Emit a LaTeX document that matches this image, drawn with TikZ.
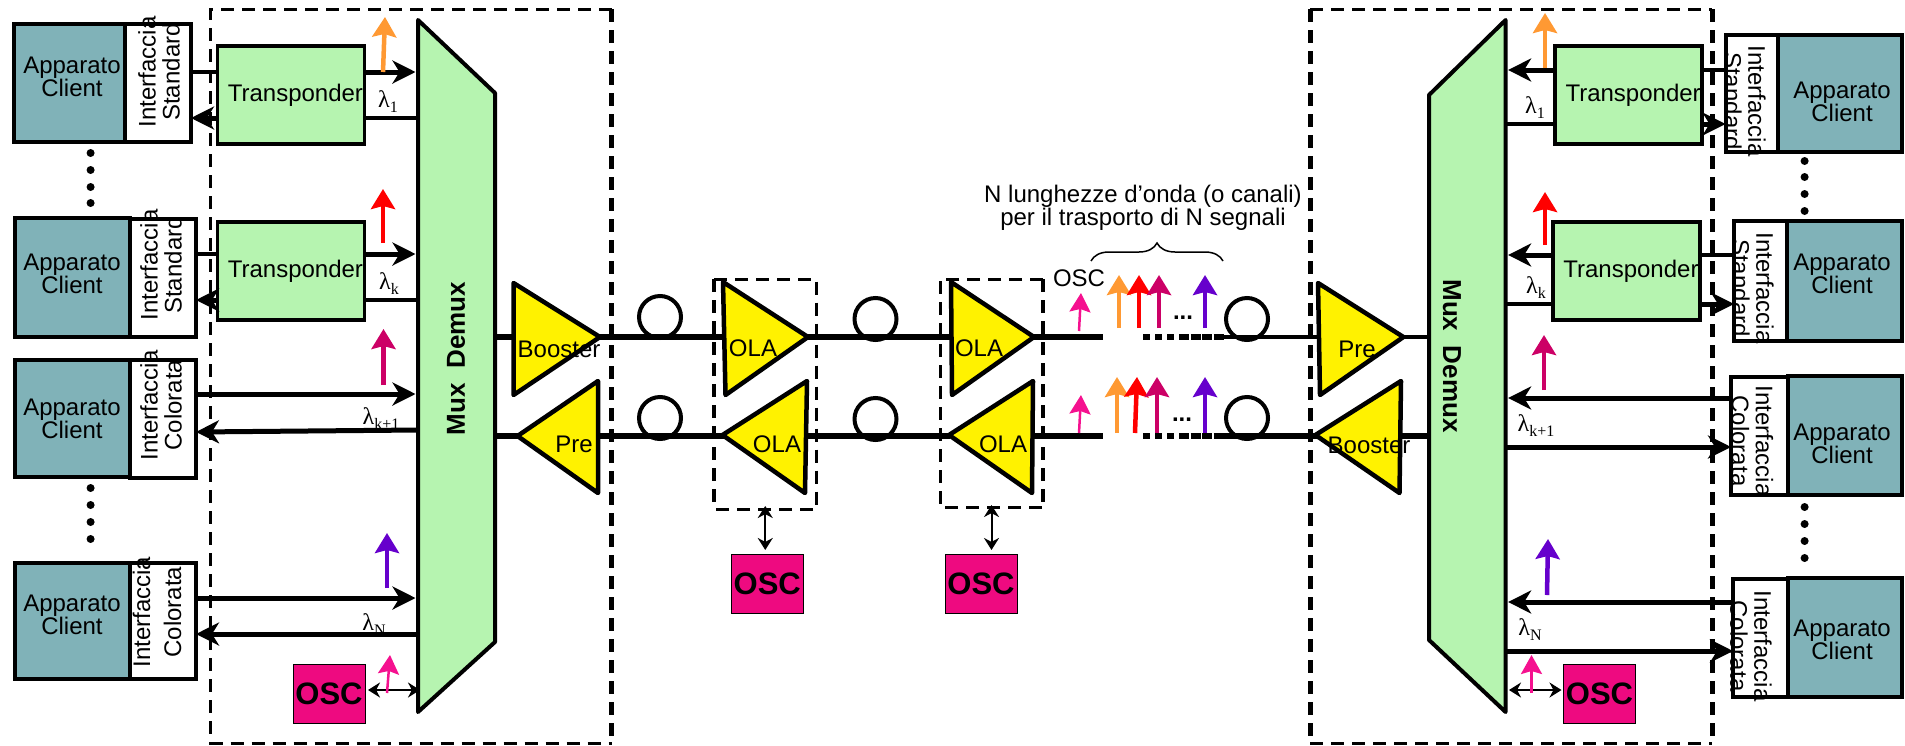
\documentclass[tikz,border=0pt]{standalone}
\usepackage{fontspec}
\setmainfont{Liberation Sans}
\newfontfamily\lamfont{Liberation Serif}
\usetikzlibrary{arrows.meta, positioning, decorations.pathreplacing}
\definecolor{clientfill}{HTML}{80B2B8}
\definecolor{greenfill}{HTML}{B6F4B0}
\definecolor{oscfill}{HTML}{EE0A80}
\definecolor{wlorange}{HTML}{FF9933}
\definecolor{wlmagenta}{HTML}{CC0066}
\definecolor{wlpurple}{HTML}{6600CC}
\definecolor{wlpink}{HTML}{F5118F}
\newcommand{\lam}[1]{{\lamfont λ\raisebox{-5pt}{\fontsize{16}{16}\selectfont #1}}}
\begin{document}
\begin{tikzpicture}[x=1pt, y=-1pt,
  txt/.style={inner sep=0pt, align=center, font=\fontsize{24}{23}\selectfont},
  client/.style={draw, line width=4pt, fill=clientfill, outer sep=0pt, inner sep=0pt},
  iface/.style={draw, line width=4pt, fill=white, outer sep=0pt, inner sep=0pt, minimum height=118pt},
  vtext/.style={txt, font=\fontsize{24}{24}\selectfont},
  tpbox/.style={txt, draw, line width=3.5pt, fill=greenfill, outer sep=0pt,
                minimum width=147pt, minimum height=98pt, text width=144pt, align=right},
  oscbox/.style={draw, line width=1pt, fill=oscfill, inner sep=0pt, outer sep=0pt,
                 minimum width=72pt, minimum height=59pt, font=\bfseries\fontsize{31}{31}\selectfont},
  mux/.style={draw, line width=4pt, fill=greenfill, line join=round},
  amp/.style={draw, line width=4.5pt, fill=yellow, line join=round},
  frm/.style={inner sep=0pt, outer sep=0pt},
  fence/.style={line width=3pt, dash pattern=on 13pt off 8pt},
  fibre/.style={line width=6.5pt},
  fibrelo/.style={line width=5.5pt},
  coil/.style={circle, draw, line width=4pt, minimum size=42pt, inner sep=0pt},
  sig/.style={line width=5pt, -{Stealth[length=23pt,width=23pt,inset=7pt]}},
  sigin/.style={sig, shorten >=2.5pt},
  plain/.style={line width=4.5pt},
  wave/.style={line width=4.5pt, -{Stealth[length=20pt,width=24pt,inset=3pt]}},
  wavesm/.style={line width=2.5pt, wlpink, -{Stealth[length=19pt,width=21pt,inset=3pt]}},
  bus/.style={line width=2pt, {Stealth[length=12pt,width=15pt]}-{Stealth[length=12pt,width=15pt]}}]
\useasboundingbox (0,0) rectangle (1905,745);

% dashed frames
\node[frm, minimum width=401pt, minimum height=734pt] (frl) at (411,376) {};
\node[frm, minimum width=402pt, minimum height=734pt] (frr) at (1511,376) {};
\node[frm, minimum width=102.5pt, minimum height=230pt] (fr1) at (765.25,394) {};
\node[frm, minimum width=103pt, minimum height=228pt] (fr2) at (991.5,393) {};
\draw[fence] (frl.north east) -- (frl.north west) -- (frl.south west) -- (frl.south east);
\draw[fence, line width=5pt] (frl.north east) -- (frl.south east);
\draw[fence] (frr.north west) -- (frr.north east);
\draw[fence] (frr.south west) -- (frr.south east);
\draw[fence, line width=5pt] (frr.north west) -- (frr.south west);
\draw[fence, line width=5pt] (frr.north east) -- (frr.south east);
\draw[fence] (fr1.north west) -- (fr1.north east) -- (fr1.south east) -- (fr1.south west);
\draw[fence, line width=4pt] (fr1.north west) -- (fr1.south west);
\draw[fence] (fr2.north east) -- (fr2.north west) -- (fr2.south west) -- (fr2.south east);
\draw[fence, line width=4pt] (fr2.north east) -- (fr2.south east);

% left clients
\node[client, minimum width=111pt, minimum height=118pt] (cl1) at (69,83) {};
\node[client, minimum width=115pt, minimum height=119pt] (cl2) at (72.5,277.5) {};
\node[client, minimum width=115pt, minimum height=117pt] (cl3) at (72.5,418.5) {};
\node[client, minimum width=115pt, minimum height=116pt] (cl4) at (72.5,621) {};
\node[iface, minimum width=66.5pt, right=0pt of cl1] (il1) {};
\node[iface, minimum width=66pt, right=0pt of cl2] (il2) {};
\node[iface, minimum width=66pt, right=0pt of cl3] (il3) {};
\node[iface, minimum width=66pt, minimum height=116pt, right=0pt of cl4] (il4) {};
\node[txt] (al1) at (72,77) {Apparato\\Client};
\node[txt] (al2) at (72,273.5) {Apparato\\Client};
\node[txt] (al3) at (72,418.5) {Apparato\\Client};
\node[txt] (al4) at (72,615) {Apparato\\Client};
\node[vtext, rotate=90] (tl1) at (159,72) {Interfaccia\\Standard};
\node[vtext, rotate=90] (tl2) at (161,265) {Interfaccia\\Standard};
\node[vtext, rotate=90] (tl3) at (161,405) {Interfaccia\\Colorata};
\node[vtext, rotate=90, font=\fontsize{24}{31}\selectfont] (tl4) at (157,612) {Interfaccia\\Colorata};

% right clients
\node[client, minimum width=124pt, minimum height=117pt] (cr1) at (1840,93.5) {};
\node[client, minimum width=115pt, minimum height=120pt] (cr2) at (1844.5,281) {};
\node[client, minimum width=114pt, minimum height=119pt] (cr3) at (1845,435.5) {};
\node[client, minimum width=114pt, minimum height=119pt] (cr4) at (1845,637.5) {};
\node[iface, minimum width=52.5pt, minimum height=117pt, left=0pt of cr1] (ir1) {};
\node[iface, minimum width=53pt, minimum height=120pt, left=0pt of cr2] (ir2) {};
\node[iface, minimum width=57pt, left=0pt of cr3] (ir3) {};
\node[iface, minimum width=55pt, left=0pt of cr4] (ir4) {};
\node[txt] (ar1) at (1842,102) {Apparato\\Client};
\node[txt] (ar2) at (1842,273.5) {Apparato\\Client};
\node[txt] (ar3) at (1842,443.5) {Apparato\\Client};
\node[txt] (ar4) at (1842,640) {Apparato\\Client};
\node[vtext, rotate=-90] (tr1) at (1745,101) {Interfaccia\\Standard};
\node[vtext, rotate=-90] (tr2) at (1753,288) {Interfaccia\\Standard};
\node[vtext, rotate=-90] (tr3) at (1752.5,441) {Interfaccia\\Colorata};
\node[vtext, rotate=-90] (tr4) at (1751,646) {Interfaccia\\Colorata};

% dots between clients
\foreach \y in {153,170,187,203,488,505,522,539} \fill (90.6,\y) circle (4);
\foreach \y in {161,177,194,211,507,524,541,558} \fill (1804.6,\y) circle (4);

% mux / demux
\draw[mux] (418,20) -- (495,93) -- (495,642) -- (418,712) -- cycle;
\draw[mux] (1505.6,20) -- (1429,95) -- (1429,640) -- (1505.6,712) -- cycle;
\node[inner sep=0pt, rotate=90, font=\bfseries\fontsize{26}{26}\selectfont] (mxl) at (456,358.5) {Mux\ \ Demux};
\node[inner sep=0pt, rotate=-90, font=\bfseries\fontsize{26}{26}\selectfont] (mxr) at (1452,356) {Mux\ \ Demux};

% fibre spans
\coordinate (pu) at (495,337);
\coordinate (pd) at (495,436);
\coordinate (qu) at (1429,337);
\coordinate (qd) at (1429,436);
\coordinate (ua) at (724,337);
\coordinate (ub) at (952,337);
\coordinate (uc) at (1103,337);
\coordinate (ud) at (1143,337);
\coordinate (ue) at (1175,337);
\coordinate (uf) at (1179,337);
\coordinate (ug) at (1224,337);
\coordinate (uh) at (1319,337);
\coordinate (la) at (724,436);
\coordinate (lb) at (950,436);
\coordinate (lc) at (1103,436);
\coordinate (ld) at (1143,436);
\coordinate (le) at (1175,436);
\coordinate (lf) at (1179,436);
\coordinate (lg) at (1224,436);
\coordinate (lh) at (1317,436);
\draw[fibrelo] (pu) -- (515,337);
\draw[fibre] (600,337) -- (ua);
\draw[fibre] (808,337) -- (ub);
\draw[fibre] (1034,337) -- (uc);
\draw[fibre, dash pattern=on 7pt off 5pt] (ud) -- (ue);
\draw[fibre, dash pattern=on 10pt off 1.5pt] (uf) -- (ug);
\draw[line width=3.5pt] (ug) -- (uh);
\draw[line width=3.5pt] (1403,337) -- (qu);
\draw[fibrelo] (pd) -- (518,436);
\draw[fibrelo] (598,436) -- (la);
\draw[fibrelo] (806,436) -- (lb);
\draw[fibrelo] (1033,436) -- (lc);
\draw[fibrelo, dash pattern=on 7pt off 5pt] (ld) -- (le);
\draw[fibrelo, dash pattern=on 10pt off 1.5pt] (lf) -- (lg);
\draw[fibrelo] (lg) -- (lh);
\draw[fibrelo] (1400,436) -- (qd);

% fibre coils
\node[coil] (cu1) at (660,317) {};
\node[coil] (cu2) at (875.5,319) {};
\node[coil] (cu3) at (1247,319) {};
\node[coil] (cd1) at (660,418) {};
\node[coil] (cd2) at (875.5,419) {};
\node[coil] (cd3) at (1247,418) {};

% amplifiers
\draw[amp] (513.5,283) -- (600,337) -- (513.5,395) -- cycle;
\draw[amp] (517.5,436) -- (598,381) -- (598,493) -- cycle;
\draw[amp] (723,282) -- (808,337) -- (725.5,395) -- cycle;
\draw[amp] (722.5,435) -- (807,381) -- (805,493) -- cycle;
\draw[amp] (951,282) -- (1034,337) -- (952,395) -- cycle;
\draw[amp] (949,435) -- (1033,381) -- (1032,493) -- cycle;
\draw[amp] (1318,283) -- (1403.4,337) -- (1320,395) -- cycle;
\draw[amp] (1315.4,435) -- (1401,381) -- (1399.5,493) -- cycle;
\node[txt] (bol) at (559,349) {Booster};
\node[txt] (prl) at (574,444) {Pre};
\node[txt] (ol1) at (753,348) {OLA};
\node[txt] (ol2) at (777,444) {OLA};
\node[txt] (ol3) at (979,348) {OLA};
\node[txt] (ol4) at (1003,444) {OLA};
\node[txt] (prr) at (1357,349) {Pre};
\node[txt] (bor) at (1369,445) {Booster};

% transponders
\node[tpbox] (tpl1) at (291,95) {Transponder};
\node[tpbox] (tpl2) at (291,271) {Transponder};
\node[tpbox] (tpr1) at (1628.7,95) {Transponder};
\node[tpbox] (tpr2) at (1626.5,271) {Transponder};

% left connectors
\coordinate (mla) at (418,72);
\coordinate (mlb) at (418,118);
\coordinate (mlc) at (418,254);
\coordinate (mld) at (418,300);
\coordinate (mle) at (418,394);
\coordinate (mlf) at (418,430);
\coordinate (mlg) at (418,598);
\coordinate (mlh) at (418,634);
\coordinate (mli) at (420,690);
\coordinate (il3r) at (196,432);
\draw[plain] (il1.east |- mla) -- (tpl1.west |- mla);
\draw[sig] (tpl1.west |- mlb) -- (il1.east |- mlb);
\draw[sigin] (tpl1.east |- mla) -- (mla);
\draw[plain] (tpl1.east |- mlb) -- (mlb);
\draw[plain] (il2.east |- mlc) -- (tpl2.west |- mlc);
\draw[sig] (tpl2.west |- mld) -- (il2.east |- mld);
\draw[sigin] (tpl2.east |- mlc) -- (mlc);
\draw[plain] (tpl2.east |- mld) -- (mld);
\node[font=\fontsize{24}{24}\selectfont, inner sep=0pt] (lk1) at (381,419) {\lam{k+1}};
\draw[sigin] (il3.east |- mle) -- (mle);
\draw[sig] (mlf) -- (il3r);
\draw[sigin] (il4.east |- mlg) -- (mlg);
\draw[sig] (mlh) -- (il4.east |- mlh);
\node[font=\fontsize{24}{24}\selectfont, inner sep=0pt] (ll1) at (388,102) {\lam{1}};
\node[font=\fontsize{24}{24}\selectfont, inner sep=0pt] (llk) at (389,284) {\lam{k}};
\node[font=\fontsize{24}{24}\selectfont, inner sep=0pt] (lln) at (374,625) {\lam{N}};

% right connectors
\coordinate (mra) at (1505.6,70);
\coordinate (mrb) at (1505.6,124);
\coordinate (mrc) at (1505.6,255);
\coordinate (mrd) at (1505.6,304);
\coordinate (mre) at (1505.6,398);
\coordinate (mrf) at (1505.6,447);
\coordinate (mrg) at (1505.6,602);
\coordinate (mrh) at (1505.6,651);
\coordinate (mri) at (1509,690);
\draw[plain] (ir1.west |- mra) -- (tpr1.east |- mra);
\draw[sig] (tpr1.east |- mrb) -- (ir1.west |- mrb);
\draw[sigin] (tpr1.west |- mra) -- (mra);
\draw[plain] (tpr1.west |- mrb) -- (mrb);
\draw[plain] (ir2.west |- mrc) -- (tpr2.east |- mrc);
\draw[sig] (tpr2.east |- mrd) -- (ir2.west |- mrd);
\draw[sigin] (tpr2.west |- mrc) -- (mrc);
\draw[plain] (tpr2.west |- mrd) -- (mrd);
\draw[sigin] (ir3.west |- mre) -- (mre);
\draw[sig] (mrf) -- (ir3.west |- mrf);
\draw[sigin] (ir4.west |- mrg) -- (mrg);
\draw[sig] (mrh) -- (ir4.west |- mrh);
\node[font=\fontsize{24}{24}\selectfont, inner sep=0pt] (lr1) at (1535,108) {\lam{1}};
\node[font=\fontsize{24}{24}\selectfont, inner sep=0pt] (lrk) at (1536,288) {\lam{k}};
\node[font=\fontsize{24}{24}\selectfont, inner sep=0pt] (lrj) at (1536,426) {\lam{k+1}};
\node[font=\fontsize{24}{24}\selectfont, inner sep=0pt] (lrn) at (1530,630) {\lam{N}};

% supervisory channel
\node[oscbox] (osl) at (329,693.5) {OSC};
\node[oscbox] (os1) at (767.25,583.5) {OSC};
\node[oscbox] (os2) at (981,583.5) {OSC};
\node[oscbox] (osr) at (1599.5,694) {OSC};
\draw[bus, shorten <=3pt] (osl.east |- mli) -- (mli);
\draw[bus, shorten <=2pt] (osr.west |- mri) -- (mri);
\draw[bus, shorten <=4pt, shorten >=-3pt] (os1.north -| fr1.south) -- (fr1.south);
\draw[bus, shorten <=4pt, shorten >=-2pt] (os2.north -| fr2.south) -- (fr2.south);

% wavelengths at the mux ports
\coordinate (wl1) at (383,72);
\coordinate (wl2) at (383,243);
\coordinate (wl3) at (383.5,385);
\coordinate (wl4) at (387,588);
\coordinate (wl5) at (387,693);
\coordinate (wr1) at (1545,68);
\coordinate (wr2) at (1545,245);
\coordinate (wr3) at (1544,390);
\coordinate (wr4) at (1547,595);
\coordinate (wr5) at (1531.5,693);
\draw[wave, wlorange] (wl1) -- ++(2,-55);
\draw[wave, red] (wl2) -- ++(0,-54);
\draw[wave, wlmagenta] (wl3) -- ++(0,-56);
\draw[wave, wlpurple] (wl4) -- ++(0,-55);
\draw[wavesm] (wl5) -- ++(3,-38);
\draw[wave, wlorange] (wr1) -- ++(0,-55);
\draw[wave, red] (wr2) -- ++(0,-53);
\draw[wave, wlmagenta] (wr3) -- ++(0,-55);
\draw[wave, wlpurple] (wr4) -- ++(1,-56);
\draw[wavesm] (wr5) -- ++(0,-38);

% wavelengths on the line
\coordinate (wu0) at (1079,331);
\coordinate (wu1) at (1119,328);
\coordinate (wu2) at (1139,328);
\coordinate (wu3) at (1159,328);
\coordinate (wu4) at (1205,328);
\coordinate (wd0) at (1079,433);
\coordinate (wd1) at (1117,433);
\coordinate (wd2) at (1135,433);
\coordinate (wd3) at (1157,433);
\coordinate (wd4) at (1205,433);
\draw[wavesm] (wu0) -- ++(2,-38);
\draw[wave, wlorange] (wu1) -- ++(0,-53);
\draw[wave, red] (wu2) -- ++(0,-53);
\draw[wave, wlmagenta] (wu3) -- ++(0,-53);
\draw[wave, wlpurple] (wu4) -- ++(0,-53);
\draw[wavesm] (wd0) -- ++(2,-38);
\draw[wave, wlorange] (wd1) -- ++(0,-56);
\draw[wave, red] (wd2) -- ++(2,-56);
\draw[wave, wlmagenta] (wd3) -- ++(0,-56);
\draw[wave, wlpurple] (wd4) -- ++(0,-56);
\node[txt, font=\bfseries\fontsize{24}{24}\selectfont] (du) at (1183,318) {...};
\node[txt, font=\bfseries\fontsize{24}{24}\selectfont] (dd) at (1182,420) {...};
\node[txt] (osx) at (1079,278) {OSC};
\node[txt, font=\fontsize{24}{22}\selectfont] (note) at (1143,208) {N lunghezze d’onda (o canali)\\per il trasporto di N segnali};
\coordinate (brl) at (1091,261);
\coordinate (brr) at (1223,261);
\draw[line width=1.5pt, decorate, decoration={brace, amplitude=18pt}] (brl) -- (brr);
\end{tikzpicture}
\end{document}
